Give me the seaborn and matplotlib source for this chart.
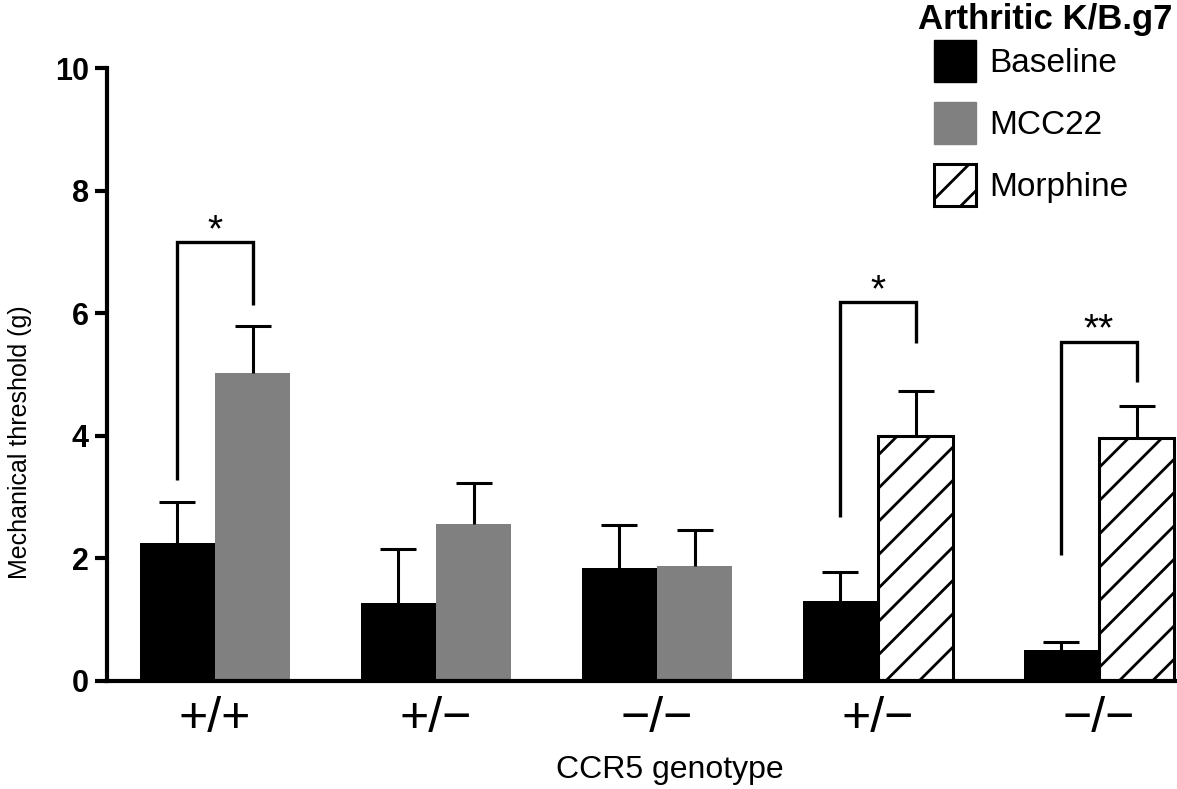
import matplotlib
matplotlib.use('Agg')
import matplotlib.pyplot as plt
from matplotlib.patches import Patch
import seaborn as sns
import numpy as np
import pandas as pd

# ============================
# Data
# ============================
group_keys = ['g1', 'g2', 'g3', 'g4', 'g5']
tick_labels = ['+/+', '+/\u2212', '\u2212/\u2212', '+/\u2212', '\u2212/\u2212']
treatments = ['MCC22', 'MCC22', 'MCC22', 'Morphine', 'Morphine']

baseline_mean = [2.25, 1.27, 1.84, 1.31, 0.51]
baseline_sem = [0.67, 0.88, 0.71, 0.46, 0.13]
treated_mean = [5.03, 2.56, 1.87, 4.00, 3.97]
treated_sem = [0.76, 0.67, 0.59, 0.73, 0.52]

# significance brackets: group index, left foot, top, right foot, label
sig_groups = [0, 3, 4]
sig_left = [3.28, 2.68, 2.06]
sig_top = [7.16, 6.18, 5.53]
sig_right = [6.13, 5.51, 4.88]
sig_text = ['*', '*', '**']

legend_title = 'Arthritic K/B.g7'
legend_labels = ['Baseline', 'MCC22', 'Morphine']

# ============================
# Style
# ============================
sns.set_style('white')
plt.rcParams['font.family'] = ['Liberation Sans', 'DejaVu Sans']
plt.rcParams['hatch.linewidth'] = 2.0
plt.rcParams['hatch.color'] = 'black'
for key in ['text.color', 'axes.labelcolor', 'xtick.color', 'ytick.color']:
    plt.rcParams[key] = 'black'

colors = {'Baseline': 'black', 'MCC22': '#808080', 'Morphine': 'white'}

df = pd.DataFrame({
    'key': group_keys * 2,
    'slot': ['Baseline'] * 5 + ['Treated'] * 5,
    'value': baseline_mean + treated_mean,
})

fig = plt.figure(figsize=(11.77, 7.89), dpi=100)
ax = fig.add_axes([0.0909, 0.1369, 0.9091, 0.7769])

sns.barplot(data=df, x='key', y='value', hue='slot', width=0.68,
            errorbar=None, palette=['black', '#808080'], legend=False,
            saturation=1, ax=ax)

# restyle bars
base_bars = list(ax.containers[0])
treat_bars = list(ax.containers[1])
for bar in base_bars:
    bar.set_facecolor('black')
    bar.set_edgecolor('none')
for i, bar in enumerate(treat_bars):
    t = treatments[i]
    bar.set_facecolor(colors[t])
    if t == 'Morphine':
        bar.set_edgecolor('black')
        bar.set_linewidth(2.2)
        bar.set_hatch('/')
    else:
        bar.set_edgecolor('none')

def centers(bars):
    return [b.get_x() + b.get_width() / 2 for b in bars]

bx = centers(base_bars)
tx = centers(treat_bars)

# upward-only error bars
for xs, means, sems in [(bx, baseline_mean, baseline_sem), (tx, treated_mean, treated_sem)]:
    eb = ax.errorbar(xs, means, yerr=[np.zeros(len(sems)), sems], fmt='none',
                     ecolor='black', elinewidth=2.2, capsize=13, capthick=2.2, zorder=1)
    eb[1][0].set_visible(False)  # hide the lower caps

# significance brackets
for g, yl, yt, yr, s in zip(sig_groups, sig_left, sig_top, sig_right, sig_text):
    ax.plot([bx[g], bx[g], tx[g], tx[g]], [yl, yt, yt, yr], color='black',
            lw=2.4, solid_capstyle='butt', solid_joinstyle='miter')
    ax.text((bx[g] + tx[g]) / 2, yt + 0.02, s, ha='center', va='baseline',
            fontsize=28)

# axes
ax.set_xlim(-0.489, 4.353)
ax.set_ylim(0, 10)
ax.set_yticks([0, 2, 4, 6, 8, 10])
ax.set_xticks(range(5))
ax.set_xticklabels(tick_labels, fontsize=36)
for lab in ax.get_yticklabels():
    lab.set_fontweight('bold')
    lab.set_fontsize(22)
ax.tick_params(axis='y', length=9, width=3, pad=4, direction='out', left=True)
ax.tick_params(axis='x', length=0, pad=11)
for side in ['top', 'right']:
    ax.spines[side].set_visible(False)
for side in ['left', 'bottom']:
    ax.spines[side].set_linewidth(3)
    ax.spines[side].set_color('black')

ax.set_xlabel('CCR5 genotype', fontsize=23, va='center')
ax.xaxis.set_label_coords(0.526, -0.145)
ax.set_ylabel('Mechanical threshold (g)', fontsize=18, va='center')
ax.yaxis.set_label_coords(-0.081, 0.39)

# legend: title as bold text, entries as a plain legend below it
fig.text(1172 / 1177, 1 - 20 / 789, legend_title, ha='right', va='center',
         fontsize=25, fontweight='bold')
handles = [
    Patch(facecolor='black', edgecolor='black'),
    Patch(facecolor='#808080', edgecolor='#808080'),
    Patch(facecolor='white', edgecolor='black', hatch='/', linewidth=2.2),
]
leg = fig.legend(handles, legend_labels, loc='upper left',
                 bbox_to_anchor=(934 / 1177, 1 - 40 / 789), frameon=False,
                 fontsize=24, handlelength=1.26, handleheight=1.56,
                 labelspacing=0.6, handletextpad=0.4, borderpad=0,
                 borderaxespad=0)

fig.savefig('out.png', dpi=100)
